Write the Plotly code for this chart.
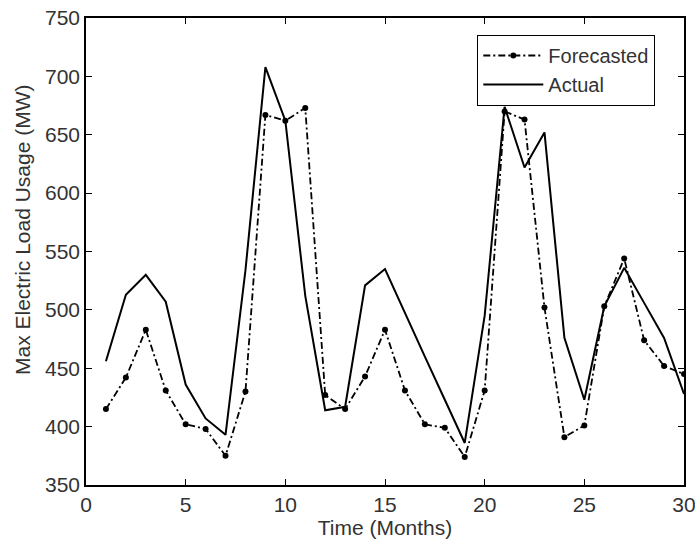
import plotly.graph_objects as go

months = list(range(1, 31))
forecasted = [415, 442, 483, 431, 402, 398, 375, 430, 667, 662, 673, 427, 415, 443, 483,
              431, 402, 399, 374, 431, 670, 663, 502, 391, 401, 503, 544, 474, 452, 445]
actual = [456, 513, 530, 507, 436, 407, 393, 534, 708, 662, 512, 414, 417, 521, 535,
          497, 460, 423, 386, 495, 674, 622, 652, 476, 423, 503, 536, 506, 476, 428]
x_ticks = [0, 5, 10, 15, 20, 25, 30]
y_ticks = [350, 400, 450, 500, 550, 600, 650, 700, 750]

FONT = "Liberation Sans, Arial, sans-serif"
TXT = "#333333"

fig = go.Figure()
fig.add_trace(go.Scatter(
    x=months, y=forecasted, name="Forecasted", mode="lines+markers",
    line=dict(color="black", width=1.8, dash="7px,3px,2px,3px"),
    marker=dict(symbol="circle", size=6, color="black"),
))
fig.add_trace(go.Scatter(
    x=months, y=actual, name="Actual", mode="lines",
    line=dict(color="black", width=2),
))

axis_common = dict(
    showgrid=False, zeroline=False, showline=True, linecolor="black", linewidth=1.5,
    mirror="ticks", ticks="inside", ticklen=6, tickwidth=1.2, tickcolor="black",
    tickfont=dict(family=FONT, size=21, color=TXT), automargin=False,
    ticklabeloverflow="allow",
)

fig.update_layout(
    width=695, height=543,
    margin=dict(l=86, r=11, t=18, b=58),
    paper_bgcolor="white", plot_bgcolor="white",
    font=dict(family=FONT, size=20, color=TXT),
    xaxis=dict(range=[0, 30], tickvals=x_ticks,
               title=dict(text="Time (Months)", font=dict(family=FONT, size=21, color=TXT), standoff=2),
               **axis_common),
    yaxis=dict(range=[350, 750], tickvals=y_ticks, **axis_common),
    annotations=[dict(
        text="Max Electric Load Usage (MW)", textangle=-90,
        xref="paper", yref="paper", x=-0.107, y=0.546,
        xanchor="center", yanchor="middle", showarrow=False,
        font=dict(family=FONT, size=21, color=TXT),
    )],
    legend=dict(x=0.654, y=0.964, xanchor="left", yanchor="top",
                bgcolor="white", bordercolor="black", borderwidth=1.2,
                font=dict(family=FONT, size=20, color=TXT),
                itemwidth=60, tracegroupgap=0),
    showlegend=True,
)

fig.write_html("out.html", config={"displayModeBar": False},
               post_script="document.body.style.margin='0';document.body.style.overflow='hidden';")
